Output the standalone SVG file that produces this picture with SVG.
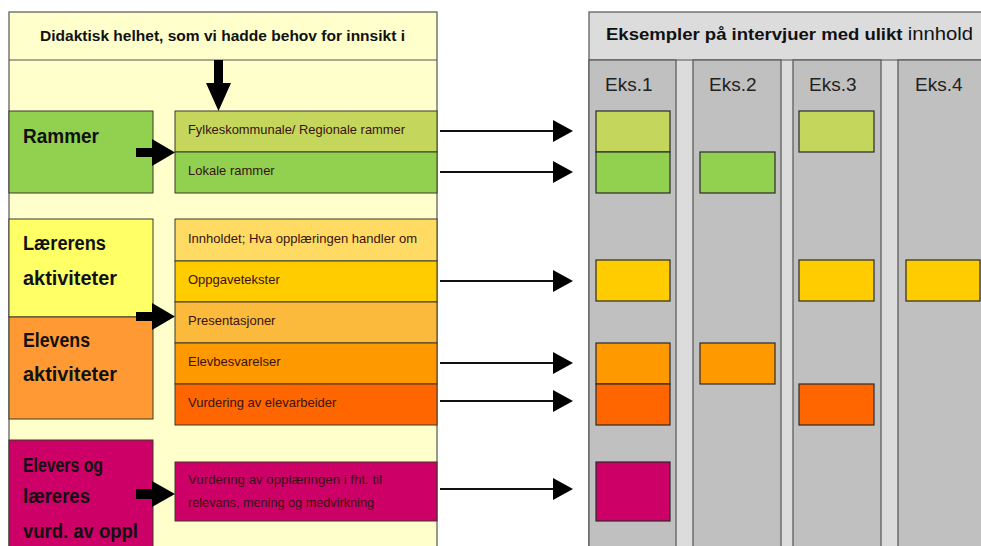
<svg xmlns="http://www.w3.org/2000/svg" width="981" height="546" viewBox="0 0 981 546">
<defs>
<style>
.big{font-family:"Liberation Sans",Arial,sans-serif;font-weight:bold;font-size:20px;fill:#111}
.sm{font-family:"Liberation Sans",Arial,sans-serif;font-size:13px;fill:#3a1212}
.eks{font-family:"Liberation Sans",Arial,sans-serif;font-size:19px;fill:#222}
.box{stroke:#3a3a2a;stroke-width:1}
.col{fill:#C0C0C0;stroke:#555;stroke-width:1.2}
.conn{stroke:#111;stroke-width:2;fill:none}
</style>
<marker id="ah" markerUnits="userSpaceOnUse" markerWidth="20" markerHeight="22" refX="0" refY="11" orient="auto">
<polygon points="0,0 20,11 0,22" fill="#000"/>
</marker>
</defs>
<rect width="981" height="546" fill="#fff"/>

<g id="left-panel">
<rect x="9" y="12" width="428" height="545" fill="#FFFFCC" stroke="#555" stroke-width="1.2"/>
<line x1="9" y1="60" x2="437" y2="60" stroke="#555" stroke-width="1.2"/>
<text x="40" y="41" font-family="'Liberation Sans',Arial,sans-serif" font-weight="bold" font-size="15" fill="#111" textLength="365" lengthAdjust="spacingAndGlyphs">Didaktisk helhet, som vi hadde behov for innsikt i</text>
</g>

<g id="rammer">
<rect class="box" x="9" y="111" width="144" height="82" fill="#92D050"/>
<text class="big" x="23" y="143" textLength="76" lengthAdjust="spacingAndGlyphs">Rammer</text>
</g>
<g id="fylke">
<rect class="box" x="175" y="111" width="262" height="41" fill="#C4D75C"/>
<text class="sm" x="188" y="134" textLength="217" lengthAdjust="spacingAndGlyphs">Fylkeskommunale/  Regionale rammer</text>
</g>
<g id="lokale">
<rect class="box" x="175" y="152" width="262" height="41" fill="#92D050"/>
<text class="sm" x="188" y="175">Lokale rammer</text>
</g>

<g id="laerer">
<rect class="box" x="9" y="219" width="144" height="98" fill="#FFFF66"/>
<text class="big" x="23" y="250" textLength="83" lengthAdjust="spacingAndGlyphs">Lærerens</text>
<text class="big" x="23" y="285" textLength="94" lengthAdjust="spacingAndGlyphs">aktiviteter</text>
</g>
<g id="elevens">
<rect class="box" x="9" y="317" width="144" height="102" fill="#FF9933"/>
<text class="big" x="23" y="347" textLength="67" lengthAdjust="spacingAndGlyphs">Elevens</text>
<text class="big" x="23" y="381" textLength="94" lengthAdjust="spacingAndGlyphs">aktiviteter</text>
</g>
<g id="innholdet">
<rect class="box" x="175" y="219" width="262" height="42" fill="#FFDB63"/>
<text class="sm" x="188" y="243" textLength="229" lengthAdjust="spacingAndGlyphs">Innholdet; Hva opplæringen  handler om</text>
</g>
<g id="oppgave">
<rect class="box" x="175" y="261" width="262" height="41" fill="#FFCC00"/>
<text class="sm" x="188" y="284">Oppgavetekster</text>
</g>
<g id="presentasjoner">
<rect class="box" x="175" y="302" width="262" height="41" fill="#FBBA3C"/>
<text class="sm" x="188" y="325">Presentasjoner</text>
</g>
<g id="elevbes">
<rect class="box" x="175" y="343" width="262" height="41" fill="#FF9900"/>
<text class="sm" x="188" y="366">Elevbesvarelser</text>
</g>
<g id="vurdering-elev">
<rect class="box" x="175" y="384" width="262" height="41" fill="#FF6600"/>
<text class="sm" x="188" y="407">Vurdering  av elevarbeider</text>
</g>

<g id="elevers">
<rect class="box" x="9" y="440" width="144" height="120" fill="#CC0066"/>
<text class="big" x="23" y="472" textLength="80" lengthAdjust="spacingAndGlyphs">Elevers og</text>
<text class="big" x="23" y="503" textLength="67" lengthAdjust="spacingAndGlyphs">læreres</text>
<text class="big" x="23" y="538" textLength="115" lengthAdjust="spacingAndGlyphs">vurd. av oppl</text>
</g>
<g id="vurdering-oppl">
<rect class="box" x="175" y="462" width="262" height="59" fill="#CC0066"/>
<text class="sm" x="188" y="484" textLength="194" lengthAdjust="spacingAndGlyphs">Vurdering  av opplæringen  i fht. til</text>
<text class="sm" x="188" y="507" textLength="186" lengthAdjust="spacingAndGlyphs">relevans, mening  og medvirkning</text>
</g>

<g id="block-arrows" fill="#000">
<polygon points="214,60 223,60 223,83 231,83 218.5,111 206,83 214,83"/>
<polygon points="136,148 152,148 152,139 175,152.5 152,166 152,157 136,157"/>
<polygon points="136,312 152,312 152,303 175,316.5 152,330 152,321 136,321"/>
<polygon points="136,489 152,489 152,481 175,494 152,507 152,499 136,499"/>
</g>

<g id="right-panel">
<rect x="589" y="12" width="400" height="545" fill="#DCDCDC" stroke="#555" stroke-width="1.2"/>
<line x1="589" y1="60" x2="981" y2="60" stroke="#555" stroke-width="1.2"/>
<text x="606" y="40" font-family="'Liberation Sans',Arial,sans-serif" font-size="16" fill="#111" textLength="367" lengthAdjust="spacingAndGlyphs"><tspan font-weight="bold">Eksempler på intervjuer med ulikt </tspan><tspan font-size="17.5">innhold</tspan></text>
<rect class="col" x="589" y="60" width="87" height="500"/>
<rect class="col" x="693" y="60" width="88" height="500"/>
<rect class="col" x="793" y="60" width="88" height="500"/>
<rect class="col" x="898" y="60" width="95" height="500"/>
<text class="eks" x="605" y="91">Eks.1</text>
<text class="eks" x="709" y="91">Eks.2</text>
<text class="eks" x="809" y="91">Eks.3</text>
<text class="eks" x="915" y="91">Eks.4</text>
</g>

<g id="examples" stroke="#2a2a2a" stroke-width="1.2">
<rect x="596" y="111" width="74" height="41" fill="#C4D75C"/>
<rect x="596" y="152" width="74" height="41" fill="#92D050"/>
<rect x="700" y="152" width="75" height="41" fill="#92D050"/>
<rect x="799" y="111" width="75" height="41" fill="#C4D75C"/>
<rect x="596" y="260" width="74" height="41" fill="#FFCC00"/>
<rect x="799" y="260" width="75" height="41" fill="#FFCC00"/>
<rect x="906" y="260" width="74" height="41" fill="#FFCC00"/>
<rect x="596" y="343" width="74" height="41" fill="#FF9900"/>
<rect x="700" y="343" width="75" height="41" fill="#FF9900"/>
<rect x="596" y="384" width="74" height="41" fill="#FF6600"/>
<rect x="799" y="384" width="75" height="41" fill="#FF6600"/>
<rect x="596" y="462" width="74" height="59" fill="#CC0066"/>
</g>

<g id="connectors">
<line class="conn" x1="440" y1="131" x2="553" y2="131" marker-end="url(#ah)"/>
<line class="conn" x1="440" y1="172" x2="553" y2="172" marker-end="url(#ah)"/>
<line class="conn" x1="440" y1="281" x2="553" y2="281" marker-end="url(#ah)"/>
<line class="conn" x1="440" y1="363" x2="553" y2="363" marker-end="url(#ah)"/>
<line class="conn" x1="440" y1="401" x2="553" y2="401" marker-end="url(#ah)"/>
<line class="conn" x1="440" y1="489" x2="553" y2="489" marker-end="url(#ah)"/>
</g>
</svg>
